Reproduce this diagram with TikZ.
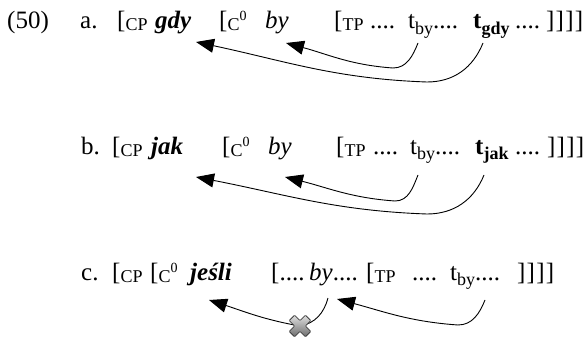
\documentclass[tikz,border=0pt]{standalone}
\usepackage{fontspec}
\setmainfont{Liberation Serif}
\usetikzlibrary{arrows.meta}
\newcommand{\smc}[1]{\raisebox{-2pt}{\fontsize{18}{18}\selectfont #1}}
\newcommand{\czero}{\smc{C}\raisebox{8pt}{\fontsize{14}{14}\selectfont 0}}
\newcommand{\lsub}[1]{\raisebox{-5.5pt}{\fontsize{18}{18}\selectfont #1}}
\newcommand{\brk}{]\kern1.2pt]\kern1.2pt]\kern1.2pt]}
\tikzset{
  txt/.style={anchor=base west, inner sep=0pt, font=\fontsize{25}{29}\selectfont},
  mv/.style={line width=0.9pt, -{Triangle[length=18pt,width=14pt]}}
}
\begin{document}
\begin{tikzpicture}[x=1pt,y=-1pt]
\useasboundingbox (0,0) rectangle (588,339);
% row a
\node[txt] (a50) at (7,29) {(50)};
\node[txt] (alab) at (80,29) {a.};
\node[txt] (acp) at (117,29) {[\smc{CP}};
\node[txt] (agdy) at (155,29) {\textbf{\textit{gdy}}};
\node[txt] (ac0) at (219,29) {[\czero};
\node[txt] (aby) at (265,29) {\textit{by}};
\node[txt] (atp) at (334,29) {[\smc{TP}};
\node[txt] (atpd) at (370,29) {....};
\node[txt] (atby) at (408,29) {t\lsub{by}....};
\node[txt] (atgdy) at (473,29) {\textbf{t\lsub{gdy}}};
\node[txt] (adots) at (515,29) {....};
\node[txt] (aend) at (546,29) {\brk};
\coordinate (a1s) at (483,43);
\coordinate (a1b) at (427,82);
\coordinate (a1t) at (196,42);
\coordinate (a2s) at (418,43);
\coordinate (a2b) at (393,68);
\coordinate (a2t) at (286,43);
\draw[mv] (a1s) to[out=-112,in=0] (a1b) to[out=178,in=-12] (a1t);
\draw[mv] (a2s) to[out=-112,in=0] (a2b) to[out=176,in=-15] (a2t);
% row b
\node[txt] (blab) at (81,154) {b.};
\node[txt] (bcp) at (112,154) {[\smc{CP}};
\node[txt] (bjak) at (151,154) {\textbf{\textit{jak}}};
\node[txt] (bc0) at (222,154) {[\czero};
\node[txt] (bby) at (268,154) {\textit{by}};
\node[txt] (btp) at (336,154) {[\smc{TP}};
\node[txt] (btpd) at (373,154) {....};
\node[txt] (btby) at (410,154) {t\lsub{by}....};
\node[txt] (btjak) at (475,154) {\textbf{t\lsub{jak}}};
\node[txt] (bdots) at (515,154) {....};
\node[txt] (bend) at (547,154) {\brk};
\coordinate (b1s) at (484,175);
\coordinate (b1b) at (427,214);
\coordinate (b1t) at (196,177);
\coordinate (b2s) at (418,175);
\coordinate (b2b) at (395,201);
\coordinate (b2t) at (285,177);
\draw[mv] (b1s) to[out=-112,in=0] (b1b) to[out=178,in=-11] (b1t);
\draw[mv] (b2s) to[out=-112,in=0] (b2b) to[out=176,in=-14] (b2t);
% row c
\node[txt] (clab) at (81,280) {c.};
\node[txt] (ccp) at (112,280) {[\smc{CP}};
\node[txt] (cc0) at (150,280) {[\czero};
\node[txt] (cjesli) at (190,280) {\textbf{\textit{jeśli}}};
\node[txt] (copen) at (271,280) {[....};
\node[txt] (cby) at (309,280) {\textit{by}....};
\node[txt] (ctp) at (366,280) {[\smc{TP}};
\node[txt] (ctpd) at (412,280) {....};
\node[txt] (ctby) at (450,280) {t\lsub{by}....};
\node[txt] (cend) at (517,280) {\brk};
\coordinate (c1s) at (328,298);
\coordinate (cx) at (300,326);
\coordinate (c1t) at (209,300);
\coordinate (c2s) at (485,300);
\coordinate (c2b) at (458,325);
\coordinate (c2t) at (337,299);
\draw[mv] (c1s) to[out=-105,in=10] (cx) to[out=170,in=-18] (c1t);
\draw[mv] (c2s) to[out=-112,in=0] (c2b) to[out=176,in=-15] (c2t);
% cross
\begin{scope}[shift={(cx)}, rotate=45]
\shade[top color=gray!25, bottom color=gray!85!black, draw=black!75, line width=0.8pt, rounded corners=0.8pt]
  (-3.8,-11.5) -- (3.8,-11.5) -- (3.8,-3.8) -- (11.5,-3.8) -- (11.5,3.8) -- (3.8,3.8) -- (3.8,11.5) -- (-3.8,11.5) -- (-3.8,3.8) -- (-11.5,3.8) -- (-11.5,-3.8) -- (-3.8,-3.8) -- cycle;
\end{scope}
\end{tikzpicture}
\end{document}
